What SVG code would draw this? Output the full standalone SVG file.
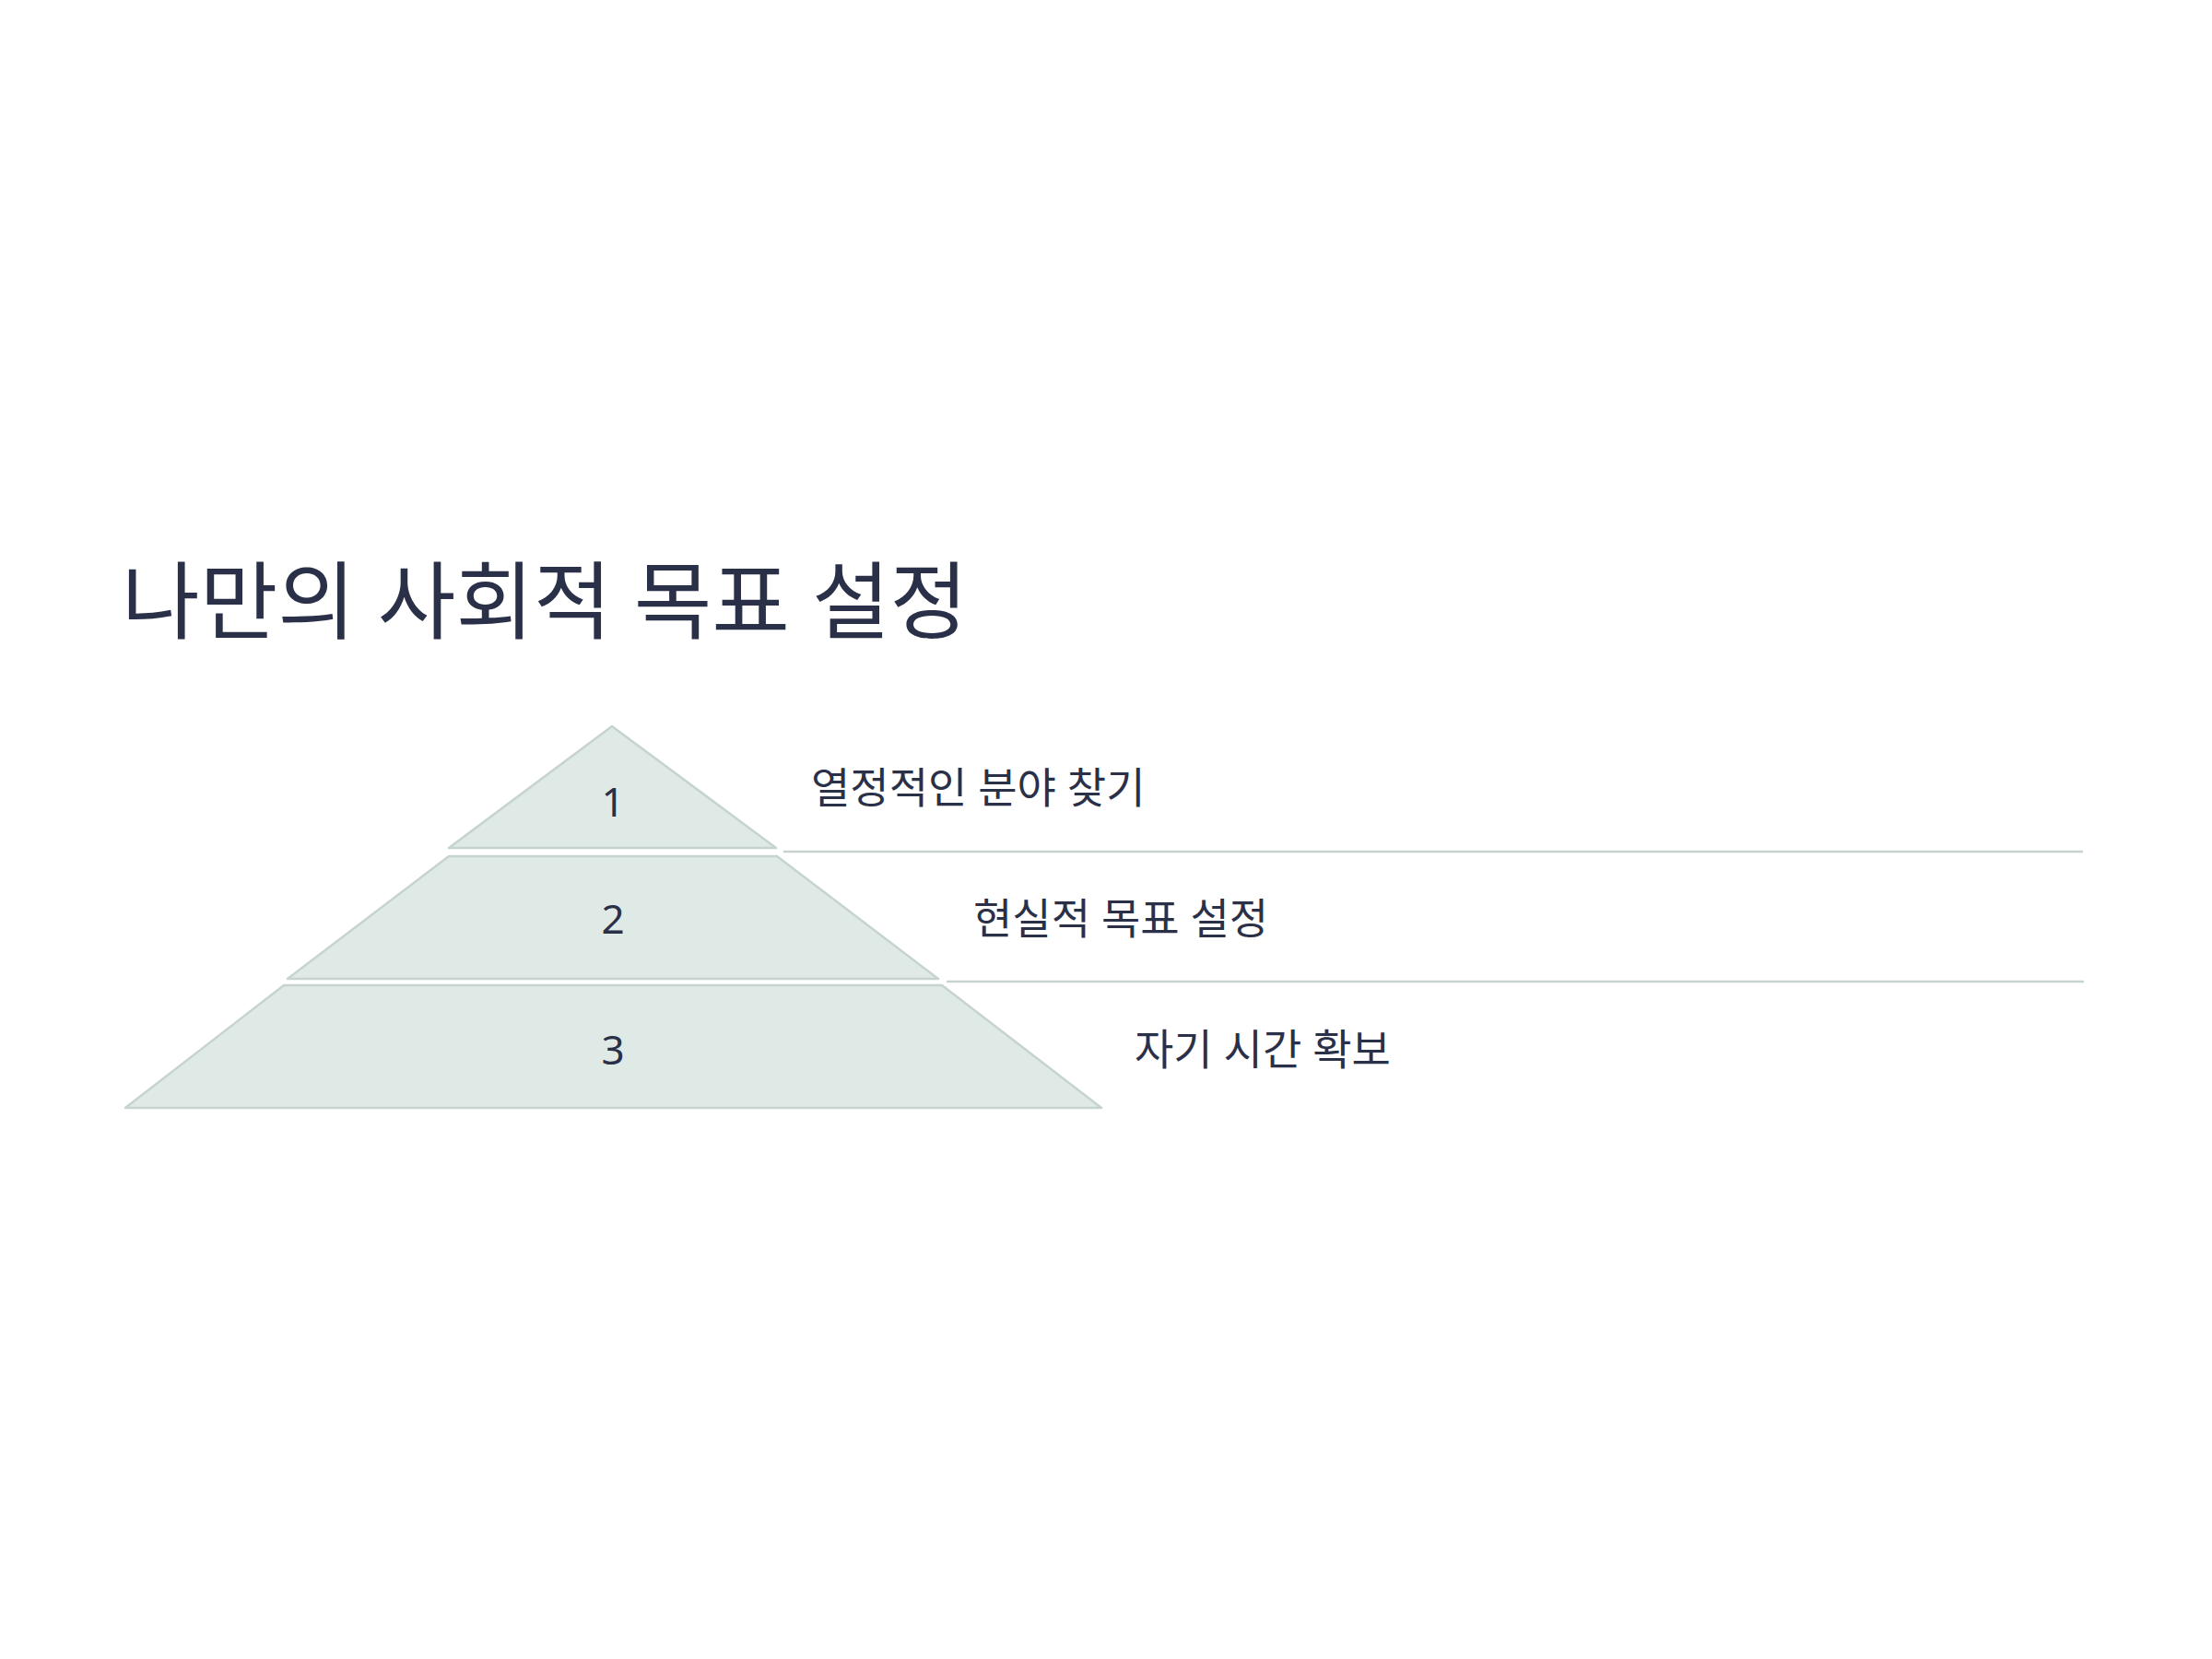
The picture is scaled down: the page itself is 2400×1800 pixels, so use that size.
<svg xmlns="http://www.w3.org/2000/svg" width="2400" height="1800" viewBox="0 0 2400 1800">
<style>
.lvl{fill:#dfeae7;stroke:#c6d3cf;stroke-width:2.5;stroke-linejoin:round}
.sep{stroke:#c6d3cf;stroke-width:2.5;fill:none}
.t{font-family:"Noto Sans","Noto Sans CJK KR",sans-serif;fill:#2a3048}
.num{font-size:44px;text-anchor:middle;dominant-baseline:central}
.lab{font-size:46px;dominant-baseline:central}
</style>
<rect width="2400" height="1800" fill="#ffffff"/>
<text id="title" class="t" x="132" y="686" font-size="92">나만의 사회적 목표 설정</text>
<g id="connectors">
<line class="sep" x1="850" y1="924" x2="2260" y2="924"/>
<line class="sep" x1="1027" y1="1065" x2="2261" y2="1065"/>
</g>
<g id="level1">
<polygon class="lvl" points="664,788 842,920 487,920"/>
<text class="t num" x="665" y="869">1</text>
<text class="t lab" x="880" y="853">열정적인 분야 찾기</text>
</g>
<g id="level2">
<polygon class="lvl" points="487,929 843,929 1018,1062 312,1062"/>
<text class="t num" x="665" y="996">2</text>
<text class="t lab" x="1056" y="995">현실적 목표 설정</text>
</g>
<g id="level3">
<polygon class="lvl" points="308,1069 1022,1069 1195,1202 136,1202"/>
<text class="t num" x="665" y="1138">3</text>
<text class="t lab" x="1231" y="1137">자기 시간 확보</text>
</g>
</svg>
